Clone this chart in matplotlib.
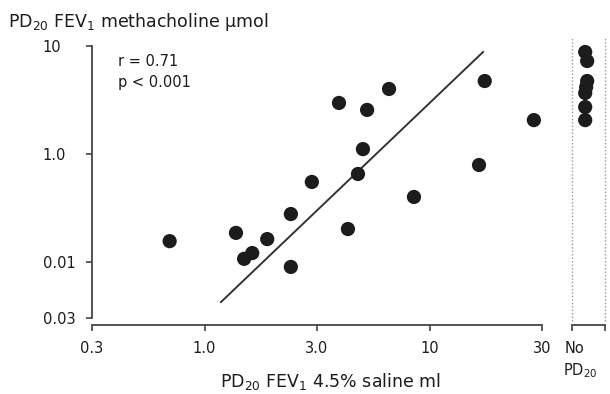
import numpy as np
import matplotlib
matplotlib.use("Agg")
import matplotlib.pyplot as plt

plt.rcParams['font.family'] = ['DejaVu Sans']
plt.rcParams['mathtext.fontset'] = 'dejavusans'

# --- data ---
saline_ml = [0.70, 1.38, 1.50, 1.63, 1.90, 2.42, 2.42, 3.00, 4.34, 4.81,
             5.06, 3.96, 5.28, 6.61, 8.53, 16.6, 17.6, 29.1]
methacholine_umol = [0.156, 0.186, 0.107, 0.121, 0.163, 0.278, 0.090, 0.551,
                     0.202, 0.653, 1.11, 2.97, 2.56, 4.00, 0.400, 0.791, 4.74, 2.06]
no_pd20_umol = [8.8, 7.26, 4.74, 4.17, 3.67, 2.72, 2.06]
no_pd20_x = [0.40, 0.46, 0.46, 0.43, 0.40, 0.40, 0.40]
reg_x = [1.184, 17.3]
reg_y = [0.0426, 8.80]

xtick_vals = [10**-0.5, 1.0, 10**0.5, 10.0, 10**1.5]
xtick_labels = ['0.3', '1.0', '3.0', '10', '30']
ytick_vals = [10.0, 1.0, 0.1, 0.03]
ytick_labels = ['10', '1.0', '0.01', '0.03']

W, H = 610, 394
fig = plt.figure(figsize=(W/100, H/100), dpi=100)

def fx(px):
    return px / W

def fy(py):
    return 1 - py / H

ink = '#1c1c1c'
left, right, bottom, top = 92, 542, 325, 46
ax = fig.add_axes([fx(left), fy(bottom), fx(right) - fx(left), fy(top) - fy(bottom)])
ax.set_xscale('log')
ax.set_yscale('log')
ax.set_xlim(10**-0.5, 10**1.5)
ylo = 10**((154 - 325) / 108)
ax.set_ylim(ylo, 10.0)

ax.scatter(saline_ml, methacholine_umol, s=105, color=ink, edgecolors='none', zorder=3, clip_on=False)
ax.plot(reg_x, reg_y, color='#333333', lw=1.4, zorder=2)

for s in ['top', 'right']:
    ax.spines[s].set_visible(False)
ax.spines['left'].set_bounds(0.03, 10.0)
ax.spines['left'].set_color('#444444')
ax.spines['bottom'].set_color('#444444')
ax.spines['left'].set_linewidth(1.3)
ax.spines['bottom'].set_linewidth(1.3)

ax.set_xticks(xtick_vals)
ax.set_xticklabels(xtick_labels)
ax.xaxis.set_minor_locator(matplotlib.ticker.NullLocator())
ax.set_yticks(ytick_vals)
ax.set_yticklabels(ytick_labels)
ax.yaxis.set_minor_locator(matplotlib.ticker.NullLocator())
ax.tick_params(axis='both', direction='out', length=4.5, width=1.2, color='#444444',
               labelsize=10.5, labelcolor=ink)
ax.tick_params(axis='x', pad=7)
ax.tick_params(axis='y', pad=31)
for lab in ax.get_yticklabels():
    lab.set_horizontalalignment('left')

ax.text(fx(118), fy(66), 'r = 0.71', transform=fig.transFigure, fontsize=10.5, color=ink, va='baseline')
ax.text(fx(118), fy(87), 'p < 0.001', transform=fig.transFigure, fontsize=10.5, color=ink, va='baseline')

# "No PD20" panel
ax2 = fig.add_axes([fx(572), fy(bottom), fx(605) - fx(572), fy(top) - fy(bottom)])
ax2.set_yscale('log')
ax2.set_ylim(ylo, 10.0)
ax2.set_xlim(0, 1)
ax2.scatter(no_pd20_x, no_pd20_umol, s=105, color=ink, edgecolors='none', zorder=3, clip_on=False)
for s in ['top', 'right', 'left']:
    ax2.spines[s].set_visible(False)
ax2.spines['bottom'].set_color('#444444')
ax2.spines['bottom'].set_linewidth(1.3)
ax2.set_xticks([0, 1])
ax2.set_xticklabels(['', ''])
ax2.set_yticks([])
ax2.yaxis.set_minor_locator(matplotlib.ticker.NullLocator())
ax2.tick_params(axis='x', direction='out', length=4.5, width=1.2, color='#444444')
for xv in [0, 1]:
    ax2.plot([xv, xv], [ylo * 1.08, 12.0], ls=(0, (1, 1.5)), color='#999999', lw=1.0,
             clip_on=False, zorder=1)

# texts
fig.text(fx(8), fy(27), r'PD$_{20}$ FEV$_1$ methacholine μmol', fontsize=12.5, color=ink, va='baseline')
fig.text(fx(330), fy(387), r'PD$_{20}$ FEV$_1$ 4.5% saline ml', fontsize=12.5, color=ink,
         va='baseline', ha='center')
fig.text(fx(565), fy(353), 'No', fontsize=10.5, color=ink, va='baseline')
fig.text(fx(563), fy(375), r'PD$_{20}$', fontsize=10.5, color=ink, va='baseline')

fig.savefig('out.png', dpi=100, facecolor='white')
